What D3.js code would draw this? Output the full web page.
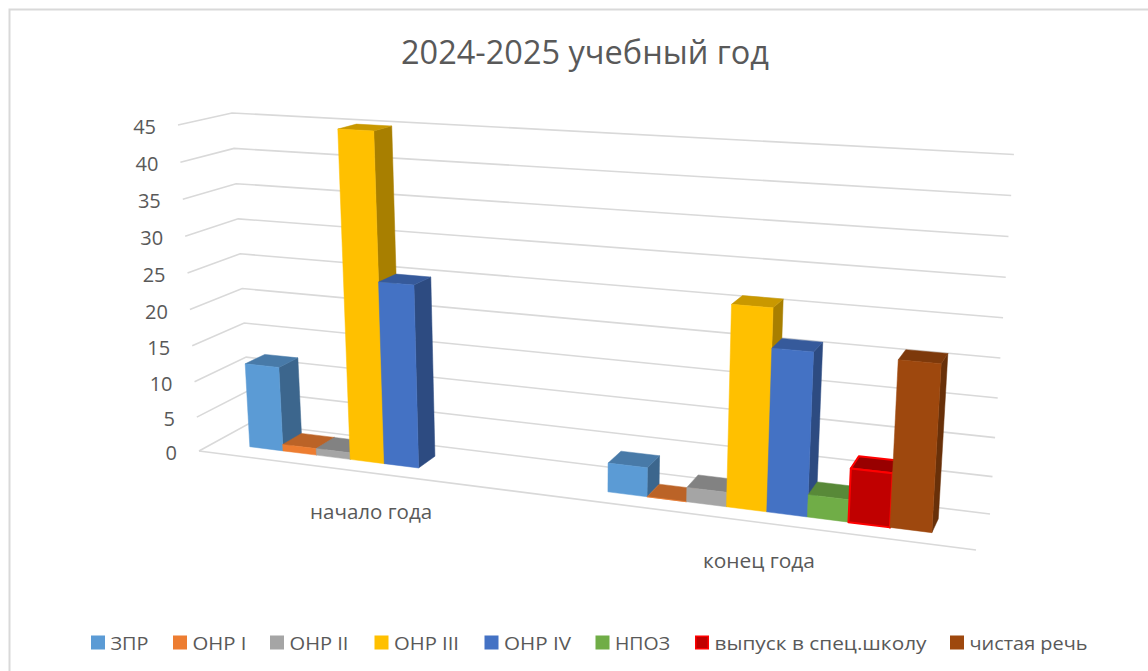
<!DOCTYPE html>
<html>
<head>
<meta charset="utf-8">
<script src="https://cdn.jsdelivr.net/npm/d3@7"></script>
<style>
  html, body { margin: 0; padding: 0; background: #fff; overflow: hidden; }
  text { font-family: "Open Sans", "Noto Sans", sans-serif; fill: #595959; }
</style>
</head>
<body>
<svg id="chart" width="1148" height="671"></svg>
<script>
// Data for the chart
const title = "2024-2025 учебный год";
const categories = ["начало года", "конец года"];
const seriesNames = ["ЗПР", "ОНР I", "ОНР II", "ОНР III", "ОНР IV", "НПОЗ", "выпуск в спец.школу", "чистая речь"];
const startValues = [12, 1, 1, 45, 25, null, null, null];
const endValues = [4, 0, 2, 26, 21, 3, 7, 21];
const tickLabels = [0, 5, 10, 15, 20, 25, 30, 35, 40, 45];

// Styles
const seriesColors = ["#5B9BD5", "#ED7D31", "#A5A5A5", "#FFC000", "#4472C4", "#70AD47", "#C00000", "#9E480E"];
const legendX = [91, 173, 270, 374.5, 484.5, 595.5, 695, 950];
const legendTextWidth = [38, 54, 59, 65, 67, 55, 212, 118];
const categoryTextWidth = [122, 112];

const svg = d3.select("#chart");

// Frame of the chart area
svg.append("path")
    .attr("d", "M9.5,671V9.5H1148")
    .attr("fill", "none")
    .attr("stroke", "#d9d9d9")
    .attr("stroke-width", 2);

// Perspective of the floor: corners are front-left, front-right, back-right, back-left
const [[x0, y0], [x1, y1], [x2, y2], [x3, y3]] = [[199, 451], [976, 550], [990, 514], [250, 423]];
const sx = x0 - x1 + x2 - x3, sy = y0 - y1 + y2 - y3;
const det = (x1 - x2) * (y3 - y2) - (x3 - x2) * (y1 - y2);
const persU = (sx * (y3 - y2) - (x3 - x2) * sy) / det;
const persV = ((x1 - x2) * sy - sx * (y1 - y2)) / det;

// Same perspective for the top of the axis, from its front-left, front-right and back-left corners
function planeMap(fl, fr, bl) {
    return (u, v) => {
        const k = persU * u + persV * v + 1;
        return [0, 1].map(i =>
            ((fr[i] * (1 + persU) - fl[i]) * u + (bl[i] * (1 + persV) - fl[i]) * v + fl[i]) / k);
    };
}

const floorMap = planeMap([x0, y0], [x1, y1], [x3, y3]);
const ceilMap = planeMap([178, 125], [999, 170], [232, 113]);

// u along the categories, v into the depth, t up the value axis
function project(u, v, t) {
    const f = floorMap(u, v), c = ceilMap(u, v);
    return [f[0] + (c[0] - f[0]) * t, f[1] + (c[1] - f[1]) * t];
}

// Set up the scales (power scale: the value axis also recedes a little)
const y = d3.scalePow().exponent(1.03).domain([0, 45]).range([0, 1]);
const categoryBand = d3.scaleBand().domain(categories).range([0, 1]);
const groupRanges = [[0.05, 0.426], [0.537, 0.942]];
const bands = groupRanges.map(r => d3.scaleBand().domain(seriesNames).range(r));
const barDepth = [0.3, 0.69];
const line = d3.line();

// Gridlines, axis labels and the front edge of the floor
tickLabels.forEach(t => {
    svg.append("path")
        .attr("d", line([project(0, 0, y(t)), project(0, 1, y(t)), project(1, 1, y(t))]))
        .attr("fill", "none")
        .attr("stroke", "#d9d9d9")
        .attr("stroke-width", 1.6);

    const p = project(0, 0, y(t));
    svg.append("text")
        .attr("x", p[0] - 22)
        .attr("y", p[1] + 2)
        .attr("dy", "0.35em")
        .attr("text-anchor", "end")
        .style("font-size", "20px")
        .text(t);
});

svg.append("path")
    .attr("d", line([project(0, 0, 0), project(1, 0, 0)]))
    .attr("fill", "none")
    .attr("stroke", "#d9d9d9")
    .attr("stroke-width", 1.6);

function shade(color, k) {
    const c = d3.rgb(color);
    return d3.rgb(c.r * k, c.g * k, c.b * k).formatHex();
}

// Add the bars, left to right so that each one covers the side of the last
[startValues, endValues].forEach((values, gi) => {
    const band = bands[gi];
    values.forEach((val, si) => {
        if (val === null) return;
        const name = seriesNames[si];
        const u0 = band(name), u1 = u0 + band.bandwidth();
        const [v0, v1] = barDepth;
        const t = y(val);
        const color = seriesColors[si];
        const isOutlined = name === "выпуск в спец.школу";
        const faces = [
            {pts: [project(u1, v0, 0), project(u1, v1, 0), project(u1, v1, t), project(u1, v0, t)], fill: shade(color, 0.66)},
            {pts: [project(u0, v0, t), project(u1, v0, t), project(u1, v1, t), project(u0, v1, t)], fill: shade(color, 0.79)},
            {pts: [project(u0, v0, 0), project(u1, v0, 0), project(u1, v0, t), project(u0, v0, t)], fill: color}
        ];
        svg.append("g").selectAll("path")
            .data(faces)
            .join("path")
            .attr("d", d => line(d.pts) + "Z")
            .attr("fill", d => d.fill)
            .attr("stroke", isOutlined ? "#FF0000" : d => d.fill)
            .attr("stroke-width", isOutlined ? 2 : 0.5)
            .attr("stroke-linejoin", "round");
    });
});

// Category labels under the floor
categories.forEach((c, i) => {
    const p = project(categoryBand(c) + categoryBand.bandwidth() / 2, 0, 0);
    svg.append("text")
        .attr("x", p[0] - 8.5)
        .attr("y", p[1] + 38)
        .attr("dy", "0.35em")
        .attr("text-anchor", "middle")
        .attr("textLength", categoryTextWidth[i])
        .attr("lengthAdjust", "spacingAndGlyphs")
        .style("font-size", "20px")
        .text(c);
});

// Title
svg.append("text")
    .attr("x", 401)
    .attr("y", 64)
    .attr("textLength", 368)
    .attr("lengthAdjust", "spacingAndGlyphs")
    .style("font-size", "33px")
    .text(title);

// Legend
const legend = svg.selectAll("g.legend")
    .data(seriesNames)
    .join("g")
    .attr("class", "legend")
    .attr("transform", (d, i) => `translate(${legendX[i]},635.5)`);

legend.append("rect")
    .attr("width", (d, i) => i === 6 ? 12.5 : 14)
    .attr("height", (d, i) => i === 6 ? 12.5 : 14)
    .attr("x", (d, i) => i === 6 ? 0.75 : 0)
    .attr("y", (d, i) => i === 6 ? 0.75 : 0)
    .attr("fill", (d, i) => seriesColors[i])
    .attr("stroke", (d, i) => i === 6 ? "#FF0000" : "none")
    .attr("stroke-width", 1.5);

legend.append("text")
    .attr("x", 19.5)
    .attr("y", 14)
    .attr("textLength", (d, i) => legendTextWidth[i])
    .attr("lengthAdjust", "spacingAndGlyphs")
    .style("font-size", "19px")
    .text(d => d);
</script>
</body>
</html>
